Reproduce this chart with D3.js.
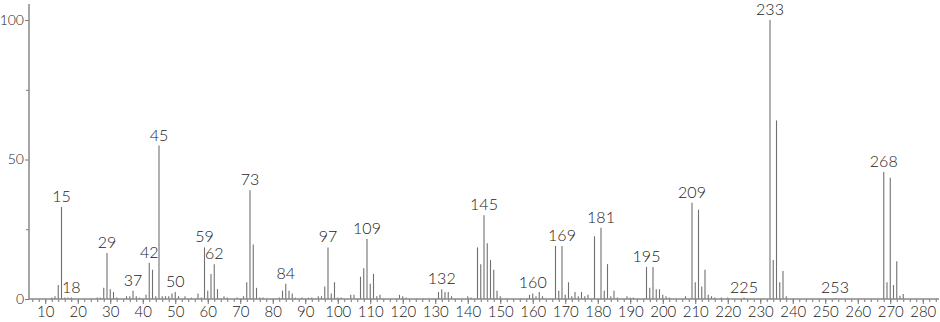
<!DOCTYPE html>
<html>
<head>
<meta charset="utf-8">
<script src="https://cdn.jsdelivr.net/npm/d3@7"></script>
<style>
body { margin: 0; background: #fff; }
svg text { font-family: Lato, "Liberation Sans", Arial, sans-serif; font-weight: 300; fill: #222; }
</style>
</head>
<body>
<svg width="940" height="322"></svg>
<script>
// m/z values and relative intensities
var mz = [12, 13, 14, 15, 16, 17, 18, 26, 27, 28, 29, 30, 31, 32, 35, 36, 37, 38, 39, 41, 42, 43, 44, 45,
  46, 47, 48, 49, 50, 51, 53, 55, 57, 58, 59, 60, 61, 62, 63, 65, 66, 69, 71, 72, 73, 74, 75, 76, 77,
  82, 83, 84, 85, 86, 87, 89, 91, 92, 94, 95, 96, 97, 98, 99, 100, 101, 104, 105, 107, 108, 109, 110,
  111, 112, 113, 119, 120, 121, 131, 132, 133, 134, 135, 140, 141, 143, 144, 145, 146, 147, 148, 149,
  150, 159, 160, 161, 162, 163, 167, 168, 169, 170, 171, 172, 173, 174, 175, 176, 177, 179, 181, 182,
  183, 184, 185, 186, 189, 190, 191, 195, 196, 197, 198, 199, 200, 201, 202, 207, 209, 210, 211, 212,
  213, 214, 215, 216, 218, 220, 225, 233, 234, 235, 236, 237, 238, 253, 268, 269, 270, 271, 272, 273, 274];
var intensity = [0.5, 1, 5, 33, 0.5, 0.5, 0.5, 0.5, 0.5, 4, 16.5, 3.5, 2.5, 0.5, 1, 1, 3, 1, 0.5, 1.5, 13, 10.5, 1, 55,
  1, 1, 1, 2, 2.5, 1, 1, 0.5, 2, 0.5, 18.5, 3, 9, 12.5, 3.5, 1, 0.5, 0.5, 1, 6, 39, 19.5, 4, 0.5, 0.5,
  0.5, 3, 5.5, 3, 2, 0.5, 0.5, 0.5, 0.5, 1, 1, 4.5, 18.5, 2, 6, 0.5, 0.5, 1.5, 1.5, 8, 11, 21.5, 5.5,
  9, 1, 1.5, 1.5, 1, 0.5, 2.5, 3.5, 2.5, 2.5, 1, 1, 0.5, 18.5, 12.5, 30, 20, 14, 10.5, 3,
  1, 1.5, 2, 1, 2.5, 1, 19, 3, 19, 1.5, 6, 1, 2.5, 1, 2.5, 1, 1.5, 22.5, 25.5, 3,
  12.5, 1, 3, 0.5, 1, 0.5, 0.5, 11.5, 4, 11.5, 3.5, 3.5, 1.5, 1, 0.5, 1, 34.5, 6, 32, 4.5,
  10.5, 1.5, 1, 0.5, 0.5, 0.5, 0.5, 100, 14, 64, 6, 10, 1, 0.4, 45.5, 6, 43.5, 5, 13.5, 1.2, 1.8];
var labeled = [15, 18, 29, 37, 42, 45, 50, 59, 62, 73, 84, 97, 109, 132, 145, 160, 169, 181, 195, 209, 225, 233, 253, 268];
var xTicks = d3.range(10, 281, 10);
var xMinor = d3.range(6, 285, 2);
var yTicks = [0, 50, 100];
var yMinor = [25, 75];

var peaks = mz.map(function(m, i) { return {mz: m, v: intensity[i]}; });

var svg = d3.select("svg");
var x = d3.scaleLinear().domain([5, 285]).range([29, 939]);
var y = d3.scaleLinear().domain([0, 100]).range([299, 20]);

// bars
svg.append("g")
  .selectAll("line")
  .data(peaks)
  .enter()
  .append("line")
  .attr("x1", function(d) { return x(d.mz); })
  .attr("x2", function(d) { return x(d.mz); })
  .attr("y1", y(0))
  .attr("y2", function(d) { return y(d.v); })
  .attr("stroke", "#707070")
  .attr("stroke-width", 1.1);

// axes
var styleAxis = function(g, size) {
  g.select(".domain").remove();
  g.selectAll("line").attr("stroke", "#777");
  g.selectAll("text").attr("font-size", size).style("font-family", 'Lato, "Liberation Sans", Arial, sans-serif').style("font-weight", 300).attr("fill", "#222");
};

svg.append("g")
  .attr("transform", "translate(0," + y(0) + ")")
  .call(d3.axisBottom(x).tickValues(xMinor).tickSize(3).tickFormat(""))
  .call(styleAxis, 15);

svg.append("g")
  .attr("transform", "translate(0," + y(0) + ")")
  .call(d3.axisBottom(x).tickValues(xTicks).tickSize(5).tickPadding(2).tickFormat(d3.format("d")))
  .call(styleAxis, 15);

svg.append("g")
  .attr("transform", "translate(" + x(5) + ",0)")
  .call(d3.axisLeft(y).tickValues(yMinor).tickSize(3).tickFormat(""))
  .call(styleAxis, 14);

svg.append("g")
  .attr("transform", "translate(" + x(5) + ",0)")
  .call(d3.axisLeft(y).tickValues(yTicks).tickSize(4).tickPadding(1).tickFormat(d3.format("d")))
  .call(styleAxis, 14);

// axis lines
svg.append("line")
  .attr("x1", x(5)).attr("x2", x(5))
  .attr("y1", 4).attr("y2", y(0))
  .attr("stroke", "#888").attr("stroke-width", 1.5);
svg.append("line")
  .attr("x1", x(5)).attr("x2", x(285))
  .attr("y1", y(0)).attr("y2", y(0))
  .attr("stroke", "#888").attr("stroke-width", 1.5);

// peak labels
svg.append("g")
  .selectAll("text")
  .data(peaks.filter(function(d) { return labeled.indexOf(d.mz) >= 0; }))
  .enter()
  .append("text")
  .attr("x", function(d) { return x(d.mz); })
  .attr("y", function(d) { return y(d.v) - 5; })
  .attr("text-anchor", "middle")
  .attr("font-size", 16)
  .text(function(d) { return d.mz; });
</script>
</body>
</html>
